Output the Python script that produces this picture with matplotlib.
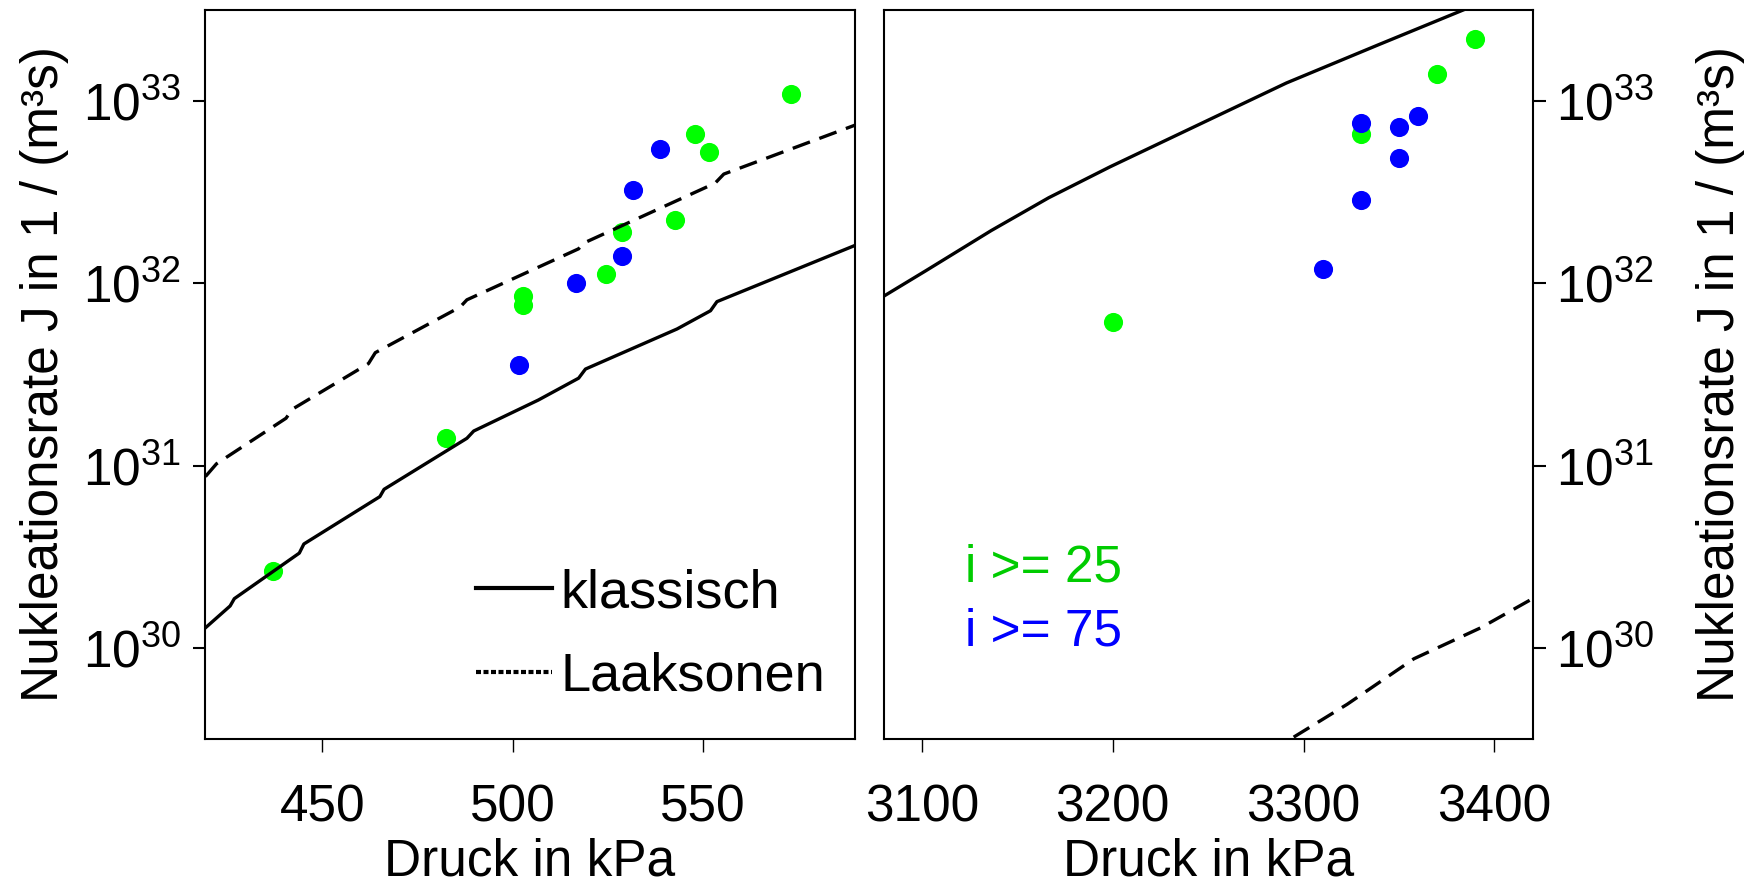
import numpy as np
import matplotlib
matplotlib.use("Agg")
import matplotlib.pyplot as plt
from matplotlib.lines import Line2D

plt.rcParams['font.family'] = ['Liberation Sans', 'DejaVu Sans']
plt.rcParams['mathtext.default'] = 'regular'

# Messpunkte links (niedriger Druck), log10(J)
p_gruen_links = [437.1, 482.5, 502.7, 502.7, 524.7, 528.8, 542.8, 548.0, 551.8, 573.3]
j_gruen_links = [30.42, 31.15, 31.93, 31.88, 32.05, 32.28, 32.35, 32.82, 32.72, 33.04]
p_blau_links = [501.8, 516.8, 528.8, 531.8, 538.9]
j_blau_links = [31.55, 32.00, 32.15, 32.51, 32.74]

# Messpunkte rechts (hoher Druck)
p_gruen_rechts = [3200, 3330, 3370, 3390]
j_gruen_rechts = [31.79, 32.82, 33.15, 33.34]
p_blau_rechts = [3310, 3330, 3330, 3350, 3350, 3360]
j_blau_rechts = [32.08, 32.46, 32.88, 32.69, 32.86, 32.92]

# Theorie-Kurven
p_klass_links = [419.2, 425.7, 426.8, 443.9, 445.1, 465.1, 466.2, 488.0, 489.8,
                 506.8, 517.4, 519.2, 543.3, 552.1, 553.8, 590.3]
j_klass_links = [30.11, 30.23, 30.27, 30.52, 30.57, 30.83, 30.87, 31.15, 31.19,
                 31.36, 31.48, 31.53, 31.75, 31.85, 31.90, 32.21]
p_laak_links = [419.2, 422.1, 440.4, 442.1, 462.1, 463.9, 486.2, 488.0,
                517.4, 518.6, 553.3, 555.6, 590.3]
j_laak_links = [30.94, 31.01, 31.26, 31.31, 31.56, 31.62, 31.87, 31.91,
                32.19, 32.22, 32.55, 32.60, 32.87]
p_klass_rechts = [3080.0, 3102.1, 3136.3, 3166.4, 3198.6, 3248.8, 3291.0, 3339.3, 3383.5]
j_klass_rechts = [31.93, 32.07, 32.29, 32.47, 32.64, 32.89, 33.10, 33.31, 33.50]
p_laak_rechts = [3294.8, 3322.8, 3357.8, 3392.8, 3420.0]
j_laak_rechts = [29.51, 29.69, 29.94, 30.11, 30.27]

gruen = '#00ff00'
blau = '#0000ff'
fs = 37

fig = plt.figure(figsize=(17.63, 8.93), dpi=100)
ax1 = fig.add_axes([0.1161, 0.1725, 0.3686, 0.8162])
ax2 = fig.add_axes([0.5013, 0.1725, 0.3680, 0.8162])

def zeichne(ax, pg, jg, pb, jb, pk, jk, pl, jl):
    ax.scatter(pg, 10.0 ** np.array(jg), s=190, color=gruen, linewidths=0, zorder=2)
    ax.scatter(pb, 10.0 ** np.array(jb), s=190, color=blau, linewidths=0, zorder=2)
    ax.plot(pk, 10.0 ** np.array(jk), color='k', lw=2.4, zorder=3)
    ax.plot(pl, 10.0 ** np.array(jl), color='k', lw=2.4, dashes=(5.5, 3), zorder=3)
    ax.set_yscale('log')
    ax.set_ylim(10 ** 29.5, 10 ** 33.5)
    ax.set_yticks([1e30, 1e31, 1e32, 1e33])
    ax.minorticks_off()
    ax.set_xlabel('Druck in kPa', fontsize=fs, labelpad=4)
    for s in ax.spines.values():
        s.set_linewidth(1.5)
    ax.tick_params(axis='both', direction='out', labelsize=fs, length=9)
    ax.tick_params(axis='y', width=1.5, pad=8)
    ax.tick_params(axis='x', width=1.0, pad=23)

zeichne(ax1, p_gruen_links, j_gruen_links, p_blau_links, j_blau_links,
        p_klass_links, j_klass_links, p_laak_links, j_laak_links)
ax1.set_xlim(419, 590)
ax1.set_xticks([450, 500, 550])
ax1.set_ylabel('Nukleationsrate J in 1 / (m³s)', fontsize=fs, labelpad=10)

zeichne(ax2, p_gruen_rechts, j_gruen_rechts, p_blau_rechts, j_blau_rechts,
        p_klass_rechts, j_klass_rechts, p_laak_rechts, j_laak_rechts)
ax2.set_xlim(3080, 3420)
ax2.set_xticks([3100, 3200, 3300, 3400])
ax2.yaxis.tick_right()
ax2.yaxis.set_label_position('right')
ax2.set_ylabel('Nukleationsrate J in 1 / (m³s)', fontsize=fs, labelpad=30)

# Legende
handles = [Line2D([], [], color='k', lw=3),
           Line2D([], [], color='k', lw=3, dashes=(1.2, 0.6))]
ax1.legend(handles, ['klassisch', 'Laaksonen'], loc='lower left',
           bbox_to_anchor=(0.343, -0.016), frameon=False, fontsize=39,
           handlelength=1.4, handletextpad=0.15, labelspacing=0.62)

ax2.text(0.125, 0.235, 'i >= 25', color='#00cc00', fontsize=fs,
         transform=ax2.transAxes, va='center')
ax2.text(0.125, 0.147, 'i >= 75', color=blau, fontsize=fs,
         transform=ax2.transAxes, va='center')

fig.savefig('out.png', dpi=100)
